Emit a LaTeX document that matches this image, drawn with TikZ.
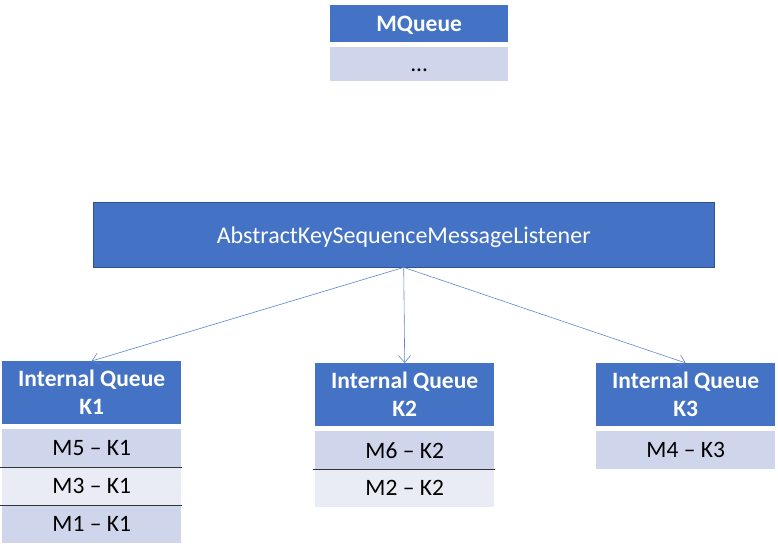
\documentclass[tikz,border=0pt]{standalone}
\usepackage{fontspec}
\setmainfont{Carlito}
\usepackage{xcolor}
\usetikzlibrary{arrows.meta}
\definecolor{accent}{HTML}{4472C4}
\definecolor{accentdark}{HTML}{2F528F}
\definecolor{rowdark}{HTML}{CFD5EA}
\definecolor{rowlight}{HTML}{E9EBF5}
\tikzset{
  head/.style={fill=accent,text=white,font=\fontsize{23.5}{28}\selectfont\bfseries,
    align=center,inner sep=0pt,anchor=north west,minimum width=179pt},
  cell/.style={font=\fontsize{23.5}{28}\selectfont,inner sep=0pt,
    anchor=north west,minimum width=179pt,minimum height=38pt},
  sep/.style={draw=black!80,line width=1pt},
  link/.style={draw=accent!85,line width=0.6pt,-{Straight Barb[length=7pt,width=12pt]}}
}
\begin{document}
\begin{tikzpicture}[x=1pt,y=-1pt]
        \useasboundingbox (0,0) rectangle (778,553);
        \node[head,text depth=0pt,minimum width=178pt,minimum height=37pt] (mq) at (330,5) {MQueue};
        \node[cell,fill=rowdark,minimum width=178pt,minimum height=34pt] (mqbody) at (330,47) {\vphantom{M}...};
        \node[head,draw=accentdark,font=\fontsize{24}{28}\selectfont,text depth=0pt,
          minimum width=621pt,minimum height=65pt] (listener) at (93,202) {AbstractKeySequenceMessageListener};
        \foreach \k / \x / \y in {1/2/361,2/315/363,3/596/363} {
            \node[head,minimum height=63pt] (k\k) at (\x,\y) {Internal Queue\\K\k};
            \draw[link] (listener.south) -- (k\k.north);
        };
        \foreach \k / \x / \y / \m / \c in {1/2/429/M5/rowdark,1/2/467/M3/rowlight,1/2/505/M1/rowdark,
            2/315/431/M6/rowdark,2/315/469/M2/rowlight,3/596/431/M4/rowdark} {
            \node[cell,fill=\c] (row\m) at (\x,\y) {\m{} -- K\k};
        };
        \foreach \m in {M5,M3,M6} {
            \draw[sep] ([xshift=-2pt]row\m.south west) -- ([xshift=1pt]row\m.south east);
        };
    \end{tikzpicture}
\end{document}
